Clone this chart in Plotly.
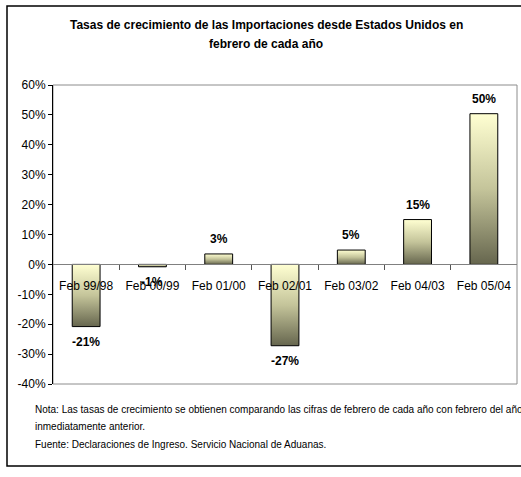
import plotly.graph_objects as go

categories = ["Feb 99/98", "Feb 00/99", "Feb 01/00", "Feb 02/01", "Feb 03/02", "Feb 04/03", "Feb 05/04"]
values = [-20.8, -0.8, 3.5, -27.2, 4.8, 15.0, 50.4]
labels = ["-21%", "-1%", "3%", "-27%", "5%", "15%", "50%"]
y_ticks = [-40, -30, -20, -10, 0, 10, 20, 30, 40, 50, 60]

FONT = "Liberation Sans, Arial, sans-serif"
HALF_W = 0.21
GRAD = [[0.0, "#66664e"], [0.5, "#c4c49a"], [1.0, "#ffffd2"]]

W, H = 521, 477
L, R, T, B = 53, 4, 85, 93
pw, ph = W - L - R, H - T - B


def px_x(x):
    return (x - L) / pw


def px_y(y):
    return (H - B - y) / ph


fig = go.Figure()
for i, v in enumerate(values):
    fig.add_trace(go.Scatter(
        x=[i - HALF_W, i + HALF_W, i + HALF_W, i - HALF_W, i - HALF_W],
        y=[0, 0, v, v, 0],
        mode="lines",
        fill="toself",
        fillgradient=dict(type="vertical", colorscale=GRAD),
        line=dict(color="black", width=1),
        hoverinfo="skip",
        showlegend=False,
    ))

annotations = []
for i, (v, lab) in enumerate(zip(values, labels)):
    annotations.append(dict(
        x=i, y=v, xref="x", yref="y", text=f"<b>{lab}</b>", showarrow=False,
        yshift=15 if v >= 0 else -15, font=dict(family=FONT, size=12, color="black"),
    ))

annotations.append(dict(
    x=px_x(266), y=px_y(25), xref="paper", yref="paper", xanchor="center", yanchor="middle",
    text="<b>Tasas de crecimiento de las Importaciones desde Estados Unidos en</b>",
    showarrow=False, font=dict(family=FONT, size=12, color="black"),
))
annotations.append(dict(
    x=px_x(266), y=px_y(44), xref="paper", yref="paper", xanchor="center", yanchor="middle",
    text="<b>febrero de cada año</b>",
    showarrow=False, font=dict(family=FONT, size=12, color="black"),
))
notes = [
    "Nota: Las tasas de crecimiento se obtienen comparando las cifras de febrero de cada año con febrero del año",
    "inmediatamente anterior.",
    "Fuente: Declaraciones de Ingreso. Servicio Nacional de Aduanas.",
]
for txt, yy in zip(notes, [409, 426, 444]):
    annotations.append(dict(
        x=px_x(33), y=px_y(yy), xref="paper", yref="paper", xanchor="left", yanchor="middle",
        text=txt, showarrow=False, font=dict(family=FONT, size=10, color="black"),
    ))

shapes = [
    dict(type="rect", xref="paper", yref="paper", x0=0, x1=1, y0=0, y1=1,
         line=dict(color="#8c8c8c", width=1), layer="below"),
    dict(type="rect", xref="paper", yref="paper", x0=px_x(7), x1=px_x(540),
         y0=px_y(466), y1=px_y(6), line=dict(color="black", width=1.5)),
]

fig.update_layout(
    width=W, height=H,
    margin=dict(l=L, r=R, t=T, b=B, pad=0),
    paper_bgcolor="white", plot_bgcolor="white",
    font=dict(family=FONT, size=12, color="black"),
    annotations=annotations, shapes=shapes,
    xaxis=dict(
        type="linear", range=[-0.5, 6.5], anchor="free", position=0.4,
        tickmode="array", tickvals=list(range(len(categories))), ticktext=categories,
        ticks="outside", ticklen=5, tickcolor="rgba(0,0,0,0)", ticklabelstandoff=5,
        minor=dict(tickmode="array", tickvals=[i + 0.5 for i in range(len(categories) - 1)],
                   ticks="outside", ticklen=5, tickcolor="#555555", tickwidth=1),
        showline=True, linecolor="#808080", linewidth=1,
        showgrid=False, zeroline=False, fixedrange=True,
        tickfont=dict(family=FONT, size=12, color="black"),
    ),
    yaxis=dict(
        range=[-40, 60], tickmode="array", tickvals=y_ticks,
        ticktext=[f"{t}%" for t in y_ticks],
        ticks="outside", ticklen=4, tickcolor="black",
        showline=True, linecolor="black", linewidth=1,
        showgrid=False, zeroline=False, fixedrange=True,
        tickfont=dict(family=FONT, size=12, color="black"),
    ),
)

fig.write_html(
    "out.html",
    config={"displayModeBar": False},
    post_script="document.body.style.margin='0';document.body.style.overflow='hidden';",
)
